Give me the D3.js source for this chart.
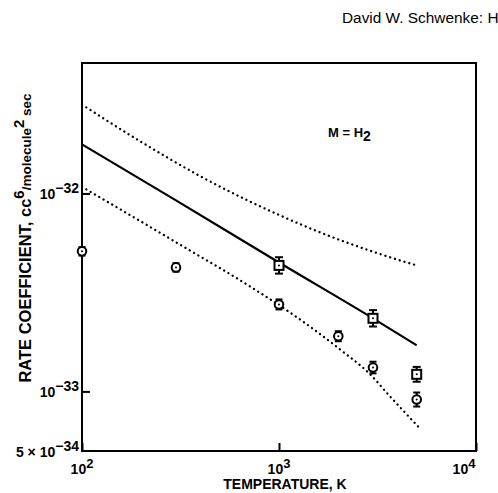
<!DOCTYPE html>
<html>
<head>
<meta charset="utf-8">
<script src="https://cdn.jsdelivr.net/npm/d3@7"></script>
<style>
  body { margin: 0; background: #fff; }
  svg { display: block; }
  text { font-family: "Liberation Sans", Arial, sans-serif; fill: #000; }
  .lbl { font-weight: bold; }
</style>
</head>
<body>
<svg id="chart" width="498" height="493"></svg>
<script>
// ---- data ----
var xTicks = [100, 1000, 10000];
var xTickExp = ["2", "3", "4"];
var yTicks = [1e-32, 1e-33];

// circles (one experiment)
var circT   = [100, 300, 1000, 2000, 3000, 5000];
var circK   = [5.1e-33, 4.23e-33, 2.75e-33, 1.9e-33, 1.32e-33, 9.1e-34];
var circErr = [1.05, 1.05, 1.06, 1.06, 1.07, 1.085];

// squares (other experiment)
var sqT   = [1000, 3000, 5000];
var sqK   = [4.33e-33, 2.34e-33, 1.22e-33];
var sqErr = [1.10, 1.10, 1.09];

// solid line (theory)
var solidT = [100, 300, 1000, 3000, 5000];
var solidK = [1.77e-32, 9.23e-33, 4.48e-33, 2.34e-33, 1.71e-33];

// upper dotted curve
var upT = [100, 200, 400, 700, 1000, 1500, 2000, 3000, 4000, 5000];
var upK = [2.81e-32, 1.82e-32, 1.22e-32, 9.18e-33, 7.79e-33, 6.55e-33, 5.86e-33, 5.08e-33, 4.63e-33, 4.33e-33];

// lower dotted curve
var loT = [100, 314, 713, 1278, 2040, 2900, 3660, 5080];
var loK = [1.08e-32, 5.52e-33, 3.39e-33, 2.31e-33, 1.63e-33, 1.22e-33, 9.44e-34, 6.65e-34];

var svg = d3.select("#chart");
var pLeft = 82, pRight = 476, pTop = 63, pBottom = 451;

var x = d3.scaleLog().domain([100, 10000]).range([pLeft, pRight]);
var y = d3.scaleLog().domain([5e-34, 4.56e-32]).range([pBottom, pTop]);

// header
svg.append("text").attr("x", 342).attr("y", 23)
  .style("font-size", "15.4px").text("David W. Schwenke: H");

// frame
svg.append("rect").attr("x", pLeft).attr("y", pTop)
  .attr("width", pRight - pLeft).attr("height", pBottom - pTop)
  .attr("fill", "none").attr("stroke", "#000").attr("stroke-width", 2);

// ticks (inward)
svg.append("g").attr("transform", "translate(0," + pBottom + ")")
  .call(d3.axisBottom(x).tickValues(xTicks).tickSize(-8).tickFormat(""));
svg.append("g").attr("transform", "translate(" + pLeft + ",0)")
  .call(d3.axisLeft(y).tickValues(yTicks).tickSize(-8).tickFormat(""));
svg.selectAll(".domain").remove();
svg.selectAll(".tick line").attr("stroke", "#000").attr("stroke-width", 2);

// x tick labels
xTicks.forEach(function(t, i) {
  var tx = x(t);
  if (i == xTicks.length - 1) tx -= 12;
  var tt = svg.append("text").attr("class", "lbl")
    .attr("x", tx).attr("y", 474).attr("text-anchor", "middle")
    .style("font-size", "14px");
  tt.append("tspan").text("10");
  tt.append("tspan").attr("dy", -6).style("font-size", "13px").text(xTickExp[i]);
});

// y tick labels
function yLabel(val, pre, exp) {
  var tt = svg.append("text").attr("class", "lbl")
    .attr("x", 79).attr("y", y(val) + 6).attr("text-anchor", "end")
    .style("font-size", "14px");
  tt.append("tspan").text(pre + "10");
  tt.append("tspan").attr("dy", -6).style("font-size", "14px").text(exp);
}
yLabel(1e-32, "", "\u221232");
yLabel(1e-33, "", "\u221233");
yLabel(5e-34, "5 \u00d7 ", "\u221234");

// axis titles
svg.append("text").attr("class", "lbl")
  .attr("x", 285).attr("y", 489).attr("text-anchor", "middle")
  .style("font-size", "14px").text("TEMPERATURE, K");

var yt = svg.append("text").attr("class", "lbl")
  .attr("transform", "translate(31,238) rotate(-90)")
  .attr("text-anchor", "middle").style("font-size", "16.5px");
yt.append("tspan").text("RATE COEFFICIENT, cc");
yt.append("tspan").attr("dy", -7).style("font-size", "15px").text("6");
yt.append("tspan").attr("dy", 7).style("font-size", "13.5px").text("/molecule");
yt.append("tspan").attr("dy", -7).style("font-size", "15px").text("2");
yt.append("tspan").attr("dy", 7).style("font-size", "13.5px").text(" sec");

// M = H2
var mt = svg.append("text").attr("class", "lbl")
  .attr("x", 328).attr("y", 137).style("font-size", "13px");
mt.append("tspan").text("M = H");
mt.append("tspan").attr("dy", 4).style("font-size", "14px").text("2");

// curves
var line = d3.line().curve(d3.curveMonotoneX)
  .x(function(d) { return x(d[0]); })
  .y(function(d) { return y(d[1]); });

svg.append("path").datum(d3.zip(solidT, solidK))
  .attr("d", line).attr("fill", "none").attr("stroke", "#000").attr("stroke-width", 2.2);

[[upT, upK], [loT, loK]].forEach(function(c) {
  svg.append("path").datum(d3.zip(c[0], c[1]))
    .attr("d", line).attr("fill", "none").attr("stroke", "#000")
    .attr("stroke-width", 2.3).attr("stroke-linecap", "round")
    .attr("stroke-dasharray", "0.1,4.9");
});

// error bars + symbols
function errBar(t, k, f, halfw) {
  var g = svg.append("g").attr("stroke", "#000").attr("stroke-width", 2);
  var cx = x(t), y1 = y(k * f), y2 = y(k / f);
  g.append("line").attr("x1", cx).attr("x2", cx).attr("y1", y1).attr("y2", y2);
  g.append("line").attr("x1", cx - halfw).attr("x2", cx + halfw).attr("y1", y1).attr("y2", y1);
  g.append("line").attr("x1", cx - halfw).attr("x2", cx + halfw).attr("y1", y2).attr("y2", y2);
}

circT.forEach(function(t, i) {
  errBar(t, circK[i], circErr[i], 3.5);
  svg.append("circle").attr("cx", x(t)).attr("cy", y(circK[i])).attr("r", 4.3)
    .attr("fill", "#fff").attr("stroke", "#000").attr("stroke-width", 2);
  svg.append("circle").attr("cx", x(t)).attr("cy", y(circK[i])).attr("r", 1).attr("fill", "#000");
});

sqT.forEach(function(t, i) {
  errBar(t, sqK[i], sqErr[i], 4);
  svg.append("rect").attr("x", x(t) - 4.5).attr("y", y(sqK[i]) - 4.5)
    .attr("width", 9).attr("height", 9)
    .attr("fill", "#fff").attr("stroke", "#000").attr("stroke-width", 2);
  svg.append("circle").attr("cx", x(t)).attr("cy", y(sqK[i])).attr("r", 1).attr("fill", "#000");
});
</script>
</body>
</html>
